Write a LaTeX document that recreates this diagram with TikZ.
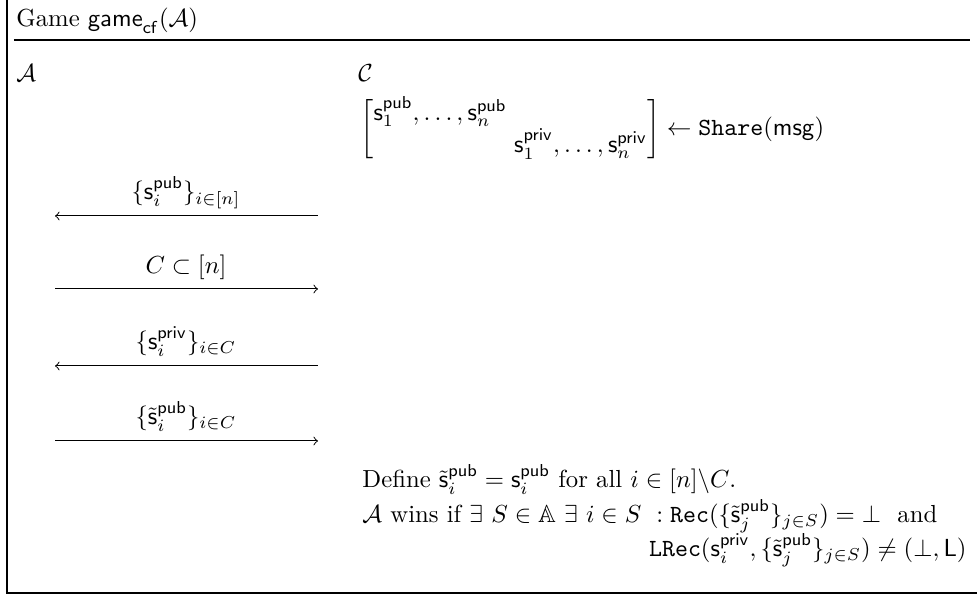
\documentclass[tikz,border=0pt]{standalone}
\usepackage{amsmath, amssymb}
\usepackage{tikz}

\newcommand{\sh}{\mathsf{s}}
\newcommand{\pubk}{\mathsf{pub}}
\newcommand{\privk}{\mathsf{priv}}

\begin{document}
\begin{tikzpicture}[x=0.405pt, y=-0.405pt,
  txt/.style={inner sep=0pt, anchor=base west},
  msglbl/.style={inner sep=0pt, anchor=base}]
        \useasboundingbox (0,0) rectangle (977,598);
        % Frame: left side and bottom, header rule
        \draw[line width=0.5pt] (7,0) -- (7,593) -- (977,593);
        \draw[line width=0.5pt] (14,40) -- (970,40);
        \node[txt] (title) at (16,27) {Game $\mathsf{game}_{\mathsf{cf}}(\mathcal{A})$};
        % Parties
        \node[txt] (adv) at (16,82) {$\mathcal{A}$};
        \node[txt] (chal) at (358,82) {$\mathcal{C}$};
        \node[anchor=west, inner sep=0pt] (share) at (360,129)
          {\setlength{\arraycolsep}{1.5pt}%
           $\begin{bmatrix} \sh_1^{\pubk},\dots,\sh_n^{\pubk} & \\
             & \sh_1^{\privk},\dots,\sh_n^{\privk} \end{bmatrix}
             \leftarrow \texttt{Share}(\mathsf{msg})$};
        % Message ends on the adversary side and on the challenger side
        \coordinate (a1) at (55,216);  \coordinate (c1) at (318,216);
        \coordinate (a2) at (55,289);  \coordinate (c2) at (318,289);
        \coordinate (a3) at (55,366);  \coordinate (c3) at (318,366);
        \coordinate (a4) at (55,441);  \coordinate (c4) at (318,441);
        % Messages
        \draw[<-] (a1) -- (c1);
        \node[msglbl] (m1) at (186,200) {$\{\sh_i^{\pubk}\}_{i\in[n]}$};
        \draw[->] (a2) -- (c2);
        \node[msglbl] (m2) at (186,274) {$C\subset[n]$};
        \draw[<-] (a3) -- (c3);
        \node[msglbl] (m3) at (186,350) {$\{\sh_i^{\privk}\}_{i\in C}$};
        \draw[->] (a4) -- (c4);
        \node[msglbl] (m4) at (186,425) {$\{\tilde{\sh}_i^{\pubk}\}_{i\in C}$};
        % Winning condition
        \node[txt] (def) at (362,488)
          {Define $\tilde{\sh}_i^{\pubk}=\sh_i^{\pubk}$ for all $i\in[n]\backslash C$.};
        \node[txt] (win) at (362,523)
          {$\mathcal{A}$ wins if $\exists~S\in\mathbb{A}~\exists~i\in S~:
           \mathtt{Rec}(\{\tilde{\sh}_j^{\pubk}\}_{j\in S})=\bot$ \ and};
        \node[inner sep=0pt, anchor=base east] (lrec) at (967,557)
          {$\mathtt{LRec}(\sh_i^{\privk},\{\tilde{\sh}_j^{\pubk}\}_{j\in S})\neq(\bot,\mathsf{L})$};
      \end{tikzpicture}
\end{document}
